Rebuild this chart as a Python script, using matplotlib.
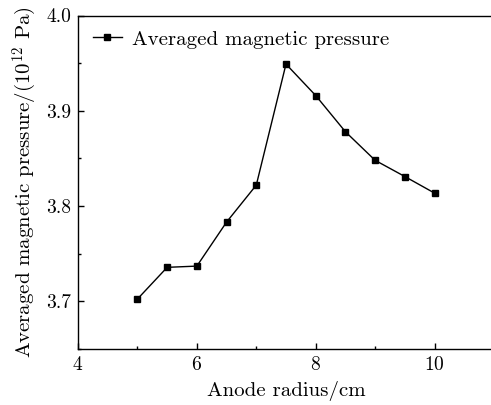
import matplotlib
matplotlib.use("Agg")
import matplotlib.pyplot as plt
from matplotlib.ticker import MultipleLocator, FormatStrFormatter

plt.rcParams['font.family'] = 'serif'
plt.rcParams['font.serif'] = ['cmr10']
plt.rcParams['mathtext.fontset'] = 'cm'
plt.rcParams['axes.formatter.use_mathtext'] = True

radius = [5, 5.5, 6, 6.5, 7, 7.5, 8, 8.5, 9, 9.5, 10]
pressure = [3.7024, 3.7357, 3.737, 3.7832, 3.822, 3.949, 3.916, 3.878, 3.848, 3.831, 3.8136]
series_label = "Averaged magnetic pressure"
xlabel = "Anode radius/cm"
ylabel = "Averaged magnetic pressure/(10$^{12}$ Pa)"

fig = plt.figure(figsize=(4.91, 4.05), dpi=100)
ax = fig.add_axes([78/491, 56/405, (494-78)/491, (349-15.5)/405])
ax.plot(radius, pressure, color='black', lw=1.0, marker='s', ms=4.2, label=series_label)
ax.set_xlim(4, 11)
ax.set_ylim(3.65, 4.0)
ax.xaxis.set_major_locator(MultipleLocator(2))
ax.xaxis.set_minor_locator(MultipleLocator(1))
ax.yaxis.set_major_locator(MultipleLocator(0.1))
ax.yaxis.set_minor_locator(MultipleLocator(0.05))
ax.yaxis.set_major_formatter(FormatStrFormatter('%.1f'))
ax.tick_params(which='both', direction='in', top=False, right=False, labelsize=14)
ax.tick_params(which='major', length=4, width=1, pad=5)
ax.tick_params(which='minor', length=2.5, width=1)
for s in ax.spines.values():
    s.set_linewidth(1.0)
ax.set_xlabel(xlabel, fontsize=15, labelpad=5)
ax.set_ylabel(ylabel, fontsize=15, labelpad=5)
ax.legend(loc='upper left', frameon=False, fontsize=15, handlelength=1.4,
          borderaxespad=0.3, borderpad=0.4, handletextpad=0.5)
fig.savefig("out.png", dpi=100)
